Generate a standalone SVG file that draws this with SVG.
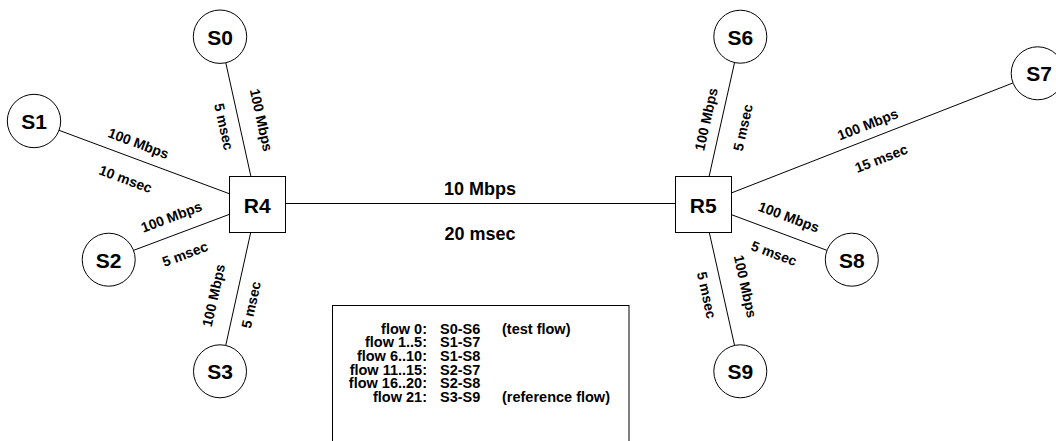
<svg xmlns="http://www.w3.org/2000/svg" width="1056" height="441" viewBox="0 0 1056 441">
<style>
.n{fill:#fff;stroke:#000;stroke-width:1}
.nt{font-family:"Liberation Sans",Arial,sans-serif;font-weight:bold;font-size:21px;text-anchor:middle;fill:#000}
.l{stroke:#000;stroke-width:1;fill:none}
.bl{font-family:"Liberation Sans",Arial,sans-serif;font-weight:bold;font-size:18px;text-anchor:middle;fill:#000}
.sl{font-family:"Liberation Sans",Arial,sans-serif;font-weight:bold;font-size:14px;text-anchor:middle;fill:#000}
.ft{font-family:"Liberation Sans",Arial,sans-serif;font-weight:bold;font-size:14.5px;fill:#000}
</style>
<rect width="1056" height="441" fill="#fff"/>
<g id="connectors">
<line class="l" x1="225.8" y1="62.8" x2="250.8" y2="176"/>
<line class="l" x1="59" y1="130.3" x2="229" y2="193.6"/>
<line class="l" x1="133.7" y1="250.3" x2="229" y2="214.5"/>
<line class="l" x1="225.8" y1="345.2" x2="250.8" y2="232"/>
<line class="l" x1="285" y1="203.5" x2="675" y2="203.5"/>
<line class="l" x1="734.5" y1="62.8" x2="709.2" y2="176"/>
<line class="l" x1="731" y1="193.1" x2="1012.8" y2="83"/>
<line class="l" x1="731" y1="214.5" x2="826.8" y2="250.3"/>
<line class="l" x1="734.5" y1="345.2" x2="709.2" y2="232"/>
</g>
<g id="link-labels">
<text class="bl" x="480" y="195">10 Mbps</text>
<text class="bl" x="480" y="240">20 msec</text>
<text class="sl" transform="translate(260,120.3) rotate(77.53)" y="3.5">100 Mbps</text>
<text class="sl" transform="translate(224,126.7) rotate(77.53)" y="5">5 msec</text>
<text class="sl" transform="translate(138,144.7) rotate(20.42)" y="3.5">100 Mbps</text>
<text class="sl" transform="translate(125.7,179) rotate(20.42)" y="5">10 msec</text>
<text class="sl" transform="translate(172,218.3) rotate(-20.58)" y="3.5">100 Mbps</text>
<text class="sl" transform="translate(185,254) rotate(-20.58)" y="5">5 msec</text>
<text class="sl" transform="translate(215,295.7) rotate(-77.53)" y="3.5">100 Mbps</text>
<text class="sl" transform="translate(251,304.7) rotate(-77.53)" y="5">5 msec</text>
<text class="sl" transform="translate(707.5,119.5) rotate(-77.43)" y="3.5">100 Mbps</text>
<text class="sl" transform="translate(742.8,127.5) rotate(-77.43)" y="5">5 msec</text>
<text class="sl" transform="translate(868.3,125.7) rotate(-21.33)" y="3.5">100 Mbps</text>
<text class="sl" transform="translate(881.3,158.3) rotate(-21.33)" y="5">15 msec</text>
<text class="sl" transform="translate(788.3,218.3) rotate(20.52)" y="3.5">100 Mbps</text>
<text class="sl" transform="translate(774,253.3) rotate(20.52)" y="5">5 msec</text>
<text class="sl" transform="translate(744,286.7) rotate(77.43)" y="3.5">100 Mbps</text>
<text class="sl" transform="translate(706.7,295) rotate(77.43)" y="5">5 msec</text>
</g>
<g id="R4"><rect class="n" x="229.5" y="176.5" width="56" height="56"/><text class="nt" x="257.3" y="213">R4</text></g>
<g id="R5"><rect class="n" x="675.5" y="176.5" width="56" height="56"/><text class="nt" x="703.3" y="213">R5</text></g>
<g id="S0"><circle class="n" cx="220" cy="36.7" r="26.7"/><text class="nt" x="220" y="44.5">S0</text></g>
<g id="S1"><circle class="n" cx="34" cy="121" r="26.7"/><text class="nt" x="34" y="128.8">S1</text></g>
<g id="S2"><circle class="n" cx="108.7" cy="259.7" r="26.5"/><text class="nt" x="108.7" y="267.5">S2</text></g>
<g id="S3"><circle class="n" cx="220" cy="371.3" r="26.5"/><text class="nt" x="220" y="379.1">S3</text></g>
<g id="S6"><circle class="n" cx="740.3" cy="36.7" r="26.5"/><text class="nt" x="740.3" y="44.5">S6</text></g>
<g id="S7"><circle class="n" cx="1037.7" cy="73.3" r="26.5"/><text class="nt" x="1039" y="81.1">S7</text></g>
<g id="S8"><circle class="n" cx="851.8" cy="259.7" r="26.5"/><text class="nt" x="851.8" y="267.5">S8</text></g>
<g id="S9"><circle class="n" cx="740.3" cy="371.3" r="26.5"/><text class="nt" x="740.3" y="379.1">S9</text></g>
<g id="legend">
<rect class="n" x="332.5" y="305.5" width="296.5" height="200"/>
<g class="ft">
<text x="427" y="333.5" text-anchor="end">flow 0:</text>
<text x="427" y="347.2" text-anchor="end">flow 1..5:</text>
<text x="427" y="360.9" text-anchor="end">flow 6..10:</text>
<text x="427" y="374.6" text-anchor="end">flow 11..15:</text>
<text x="427" y="388.3" text-anchor="end">flow 16..20:</text>
<text x="427" y="402" text-anchor="end">flow 21:</text>
<text x="440" y="333.5">S0-S6</text>
<text x="440" y="347.2">S1-S7</text>
<text x="440" y="360.9">S1-S8</text>
<text x="440" y="374.6">S2-S7</text>
<text x="440" y="388.3">S2-S8</text>
<text x="440" y="402">S3-S9</text>
<text x="502" y="333.5">(test flow)</text>
<text x="502" y="402">(reference flow)</text>
</g>
</g>
</svg>
